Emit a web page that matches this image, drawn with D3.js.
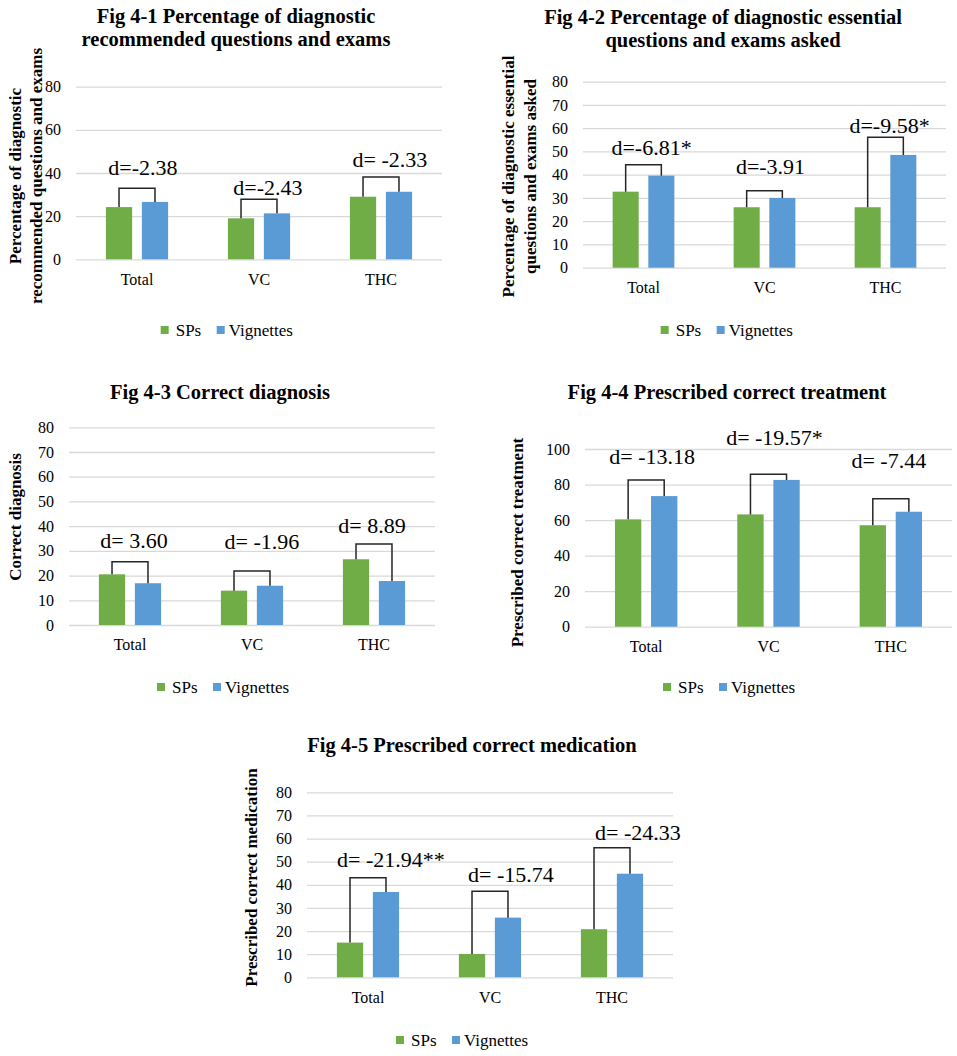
<!DOCTYPE html>
<html>
<head>
<meta charset="utf-8">
<script src="https://cdn.jsdelivr.net/npm/d3@7"></script>
<style>
  body { margin: 0; background: #fff; }
  svg text { font-family: "Liberation Serif", "Times New Roman", Times, serif !important; fill: #000; }
</style>
</head>
<body>
<svg id="chart" width="957" height="1056"></svg>
<script>
const categories = ['Total', 'VC', 'THC'];
const seriesNames = ['SPs', 'Vignettes'];

// Fig 4-1
const fig1Title = ['Fig 4-1 Percentage of diagnostic', 'recommended questions and exams'];
const fig1AxisTitle = ['Percentage of diagnostic', 'recommended questions and exams'];
const fig1SPs = [24.2, 19.0, 29.0];
const fig1Vignettes = [26.6, 21.3, 31.3];
const fig1Bracket = [32.9, 27.8, 38.1];
const fig1Labels = ['d=-2.38', 'd=-2.43', 'd= -2.33'];
const fig1Ticks = [0, 20, 40, 60, 80];

// Fig 4-2
const fig2Title = ['Fig 4-2 Percentage of diagnostic essential', 'questions and exams asked'];
const fig2AxisTitle = ['Percentage of diagnostic essential', 'questions and exams asked'];
const fig2SPs = [32.7, 26.0, 26.0];
const fig2Vignettes = [39.6, 30.0, 48.5];
const fig2Bracket = [44.3, 33.1, 56.1];
const fig2Labels = ['d=-6.81*', 'd=-3.91', 'd=-9.58*'];
const fig2Ticks = [0, 10, 20, 30, 40, 50, 60, 70, 80];

// Fig 4-3
const fig3Title = ['Fig 4-3 Correct diagnosis'];
const fig3AxisTitle = ['Correct diagnosis'];
const fig3SPs = [20.5, 13.9, 26.6];
const fig3Vignettes = [16.9, 15.9, 17.8];
const fig3Bracket = [25.6, 21.9, 32.8];
const fig3Labels = ['d= 3.60', 'd= -1.96', 'd= 8.89'];
const fig3Ticks = [0, 10, 20, 30, 40, 50, 60, 70, 80];

// Fig 4-4
const fig4Title = ['Fig 4-4 Prescribed correct treatment'];
const fig4AxisTitle = ['Prescribed correct treatment'];
const fig4SPs = [60.4, 63.2, 57.1];
const fig4Vignettes = [73.5, 82.6, 64.7];
const fig4Bracket = [82.6, 85.8, 72.0];
const fig4Labels = ['d= -13.18', 'd= -19.57*', 'd= -7.44'];
const fig4Ticks = [0, 20, 40, 60, 80, 100];

// Fig 4-5
const fig5Title = ['Fig 4-5 Prescribed correct medication'];
const fig5AxisTitle = ['Prescribed correct medication'];
const fig5SPs = [15.0, 10.1, 20.8];
const fig5Vignettes = [36.9, 25.8, 44.8];
const fig5Bracket = [43.1, 37.2, 56.0];
const fig5Labels = ['d= -21.94**', 'd= -15.74', 'd= -24.33'];
const fig5Ticks = [0, 10, 20, 30, 40, 50, 60, 70, 80];

const colors = d3.scaleOrdinal().domain(seriesNames).range(['#70AD47', '#5B9BD5']);
const serif = '"Liberation Serif", "Times New Roman", Times, serif';

// where each small chart sits on the page
const panels = [
    { title: fig1Title, axisTitle: fig1AxisTitle, sps: fig1SPs, vig: fig1Vignettes, bracket: fig1Bracket,
      labels: fig1Labels, ticks: fig1Ticks,
      left: 76, right: 442, top: 86.7, bottom: 259.3,
      titleX: 236, titleY: [16, 39], axisX: [15, 36], axisY: 176,
      legendX: 160.7, legendY: 330, labelAt: [39.1, 29.8, 42.8], labelDx: [6, 9, 9] },
    { title: fig2Title, axisTitle: fig2AxisTitle, sps: fig2SPs, vig: fig2Vignettes, bracket: fig2Bracket,
      labels: fig2Labels, ticks: fig2Ticks,
      left: 583, right: 946, top: 81.7, bottom: 267.7,
      titleX: 723, titleY: [17, 40], axisX: [508, 530], axisY: 176.5,
      legendX: 660.7, legendY: 330, labelAt: [48.5, 40.3, 57.9], labelDx: [8, 6, 4] },
    { title: fig3Title, axisTitle: fig3AxisTitle, sps: fig3SPs, vig: fig3Vignettes, bracket: fig3Bracket,
      labels: fig3Labels, ticks: fig3Ticks,
      left: 69, right: 435, top: 427.3, bottom: 625,
      titleX: 220, titleY: [392], axisX: [15], axisY: 517,
      legendX: 157, legendY: 687, labelAt: [31.2, 30.8, 37.2], labelDx: [4, 10, -2] },
    { title: fig4Title, axisTitle: fig4AxisTitle, sps: fig4SPs, vig: fig4Vignettes, bracket: fig4Bracket,
      labels: fig4Labels, ticks: fig4Ticks,
      left: 585, right: 952, top: 449, bottom: 626.7,
      titleX: 727, titleY: [392], axisX: [517], axisY: 542.5,
      legendX: 663, legendY: 687, labelAt: [91.6, 102.2, 89.5], labelDx: [6, 6, -2] },
    { title: fig5Title, axisTitle: fig5AxisTitle, sps: fig5SPs, vig: fig5Vignettes, bracket: fig5Bracket,
      labels: fig5Labels, ticks: fig5Ticks,
      left: 307, right: 673, top: 792.3, bottom: 977.3,
      titleX: 472, titleY: [745], axisX: [251], axisY: 877.5,
      legendX: 396, legendY: 1040, labelAt: [47.8, 41.3, 59.4], labelDx: [23, 21, 26] }
];

const svg = d3.select('#chart')
    .attr('font-family', serif);

function drawPanel(p) {
    let w = p.right - p.left;
    let h = p.bottom - p.top;
    let g = svg.append('g')
        .attr('transform', 'translate(' + p.left + ',' + p.top + ')');

    let y = d3.scaleLinear()
        .domain([0, d3.max(p.ticks)])
        .range([h, 0]);
    let x0 = d3.scaleBand()
        .domain(categories)
        .range([0, w])
        .paddingInner(0.49)
        .paddingOuter(0.245);
    let x1 = d3.scaleBand()
        .domain(seriesNames)
        .range([0, x0.bandwidth()])
        .paddingInner(0.27);

    // gridlines
    let grid = g.append('g')
        .call(d3.axisLeft(y).tickValues(p.ticks).tickSize(-w).tickFormat(''));
    grid.select('.domain').remove();
    grid.selectAll('line').attr('stroke', '#D9D9D9').attr('stroke-width', 1.3);

    // y tick labels
    let ya = g.append('g')
        .call(d3.axisLeft(y).tickValues(p.ticks).tickSize(0).tickPadding(15));
    ya.attr('font-family', serif).attr('font-size', 16);
    ya.select('.domain').remove();

    // category labels
    let xa = g.append('g')
        .attr('transform', 'translate(0,' + h + ')')
        .call(d3.axisBottom(x0).tickSize(0).tickPadding(14));
    xa.attr('font-family', serif).attr('font-size', 16);
    xa.select('.domain').remove();

    let rows = categories.map(function (c, i) {
        return { cat: c, vals: [p.sps[i], p.vig[i]], bracket: p.bracket[i], label: p.labels[i],
                 labelAt: p.labelAt[i], labelDx: p.labelDx[i] };
    });

    let groups = g.selectAll('.cat')
        .data(rows)
        .enter()
        .append('g')
        .attr('class', 'cat')
        .attr('transform', function (d) { return 'translate(' + x0(d.cat) + ',0)'; });

    groups.selectAll('rect')
        .data(function (d) {
            return d.vals.map(function (v, j) { return { name: seriesNames[j], value: v }; });
        })
        .enter()
        .append('rect')
        .attr('x', function (d) { return x1(d.name); })
        .attr('y', function (d) { return y(d.value); })
        .attr('width', x1.bandwidth())
        .attr('height', function (d) { return h - y(d.value); })
        .attr('fill', function (d) { return colors(d.name); });

    // bracket from bar tops up to the comparison line
    groups.append('path')
        .attr('fill', 'none')
        .attr('stroke', '#262626')
        .attr('stroke-width', 1.5)
        .attr('d', function (d) {
            let xa = x1(seriesNames[0]) + x1.bandwidth() / 2;
            let xb = x1(seriesNames[1]) + x1.bandwidth() / 2;
            return 'M' + xa + ',' + y(d.vals[0]) +
                'V' + y(d.bracket) +
                'H' + xb +
                'V' + y(d.vals[1]);
        });

    groups.append('text')
        .attr('x', function (d) { return x0.bandwidth() / 2 + d.labelDx; })
        .attr('y', function (d) { return y(d.labelAt); })
        .attr('text-anchor', 'middle')
        .attr('font-size', 22)
        .text(function (d) { return d.label; });

    // chart title
    p.title.forEach(function (t, i) {
        svg.append('text')
            .attr('x', p.titleX)
            .attr('y', p.titleY[i])
            .attr('dy', '0.35em')
            .attr('text-anchor', 'middle')
            .attr('font-size', 20.5)
            .attr('font-weight', 'bold')
            .text(t);
    });

    // y axis title
    p.axisTitle.forEach(function (t, i) {
        svg.append('text')
            .attr('transform', 'translate(' + p.axisX[i] + ',' + p.axisY + ') rotate(-90)')
            .attr('dy', '0.35em')
            .attr('text-anchor', 'middle')
            .attr('font-size', 17)
            .attr('font-weight', 'bold')
            .text(t);
    });

    // legend
    let lg = svg.append('g')
        .attr('transform', 'translate(' + p.legendX + ',' + p.legendY + ')');
    let items = lg.selectAll('g')
        .data(seriesNames)
        .enter()
        .append('g')
        .attr('transform', function (d, i) { return 'translate(' + (i * 56) + ',0)'; });
    items.append('rect')
        .attr('x', 0)
        .attr('y', -4)
        .attr('width', 8)
        .attr('height', 8)
        .attr('fill', function (d) { return colors(d); });
    items.append('text')
        .attr('x', function (d, i) { return i == 0 ? 15 : 12; })
        .attr('dy', '0.35em')
        .attr('font-size', 17)
        .text(function (d) { return d; });
}

panels.forEach(drawPanel);
svg.selectAll('text').style('font-family', serif);
</script>
</body>
</html>
